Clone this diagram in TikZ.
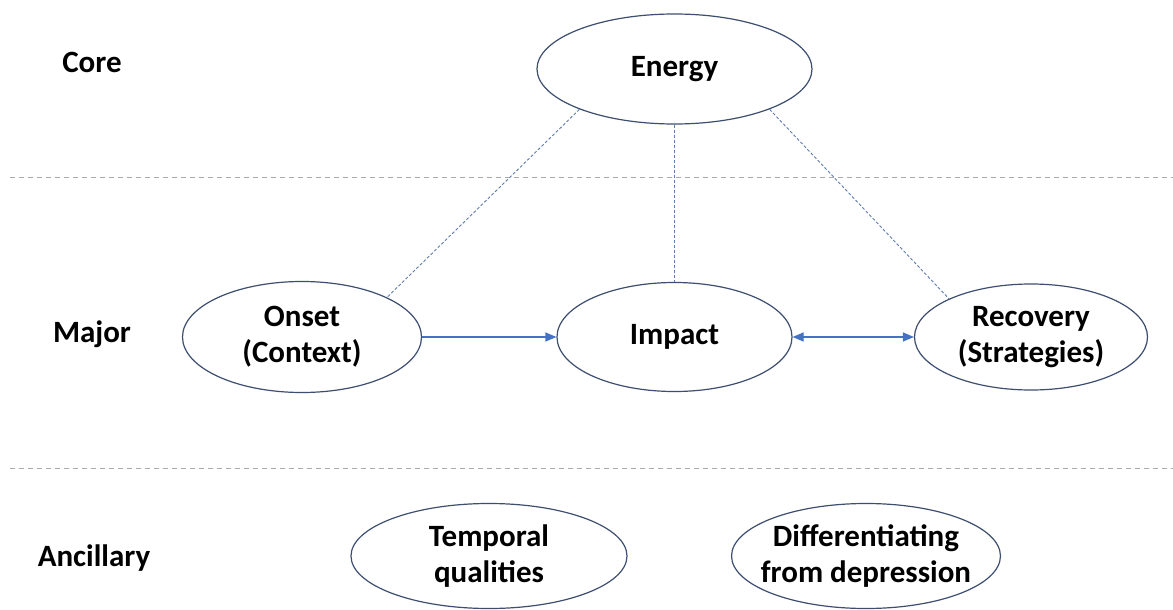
\documentclass[tikz,border=0pt]{standalone}
\usepackage{fontspec}
\setmainfont{Carlito}
\usetikzlibrary{shapes.geometric,arrows.meta}
\definecolor{outl}{RGB}{62,78,112}
\definecolor{arr}{RGB}{68,114,196}
\definecolor{dotc}{RGB}{95,125,175}
\definecolor{sep}{RGB}{170,170,170}
\begin{document}
\begin{tikzpicture}[x=1pt,y=-1pt,
  oval/.style={ellipse,draw=outl,line width=1.2pt,inner sep=0pt,align=center,
    font=\fontsize{31}{36}\selectfont\bfseries},
  lvl/.style={font=\fontsize{31}{36}\selectfont\bfseries},
  sepline/.style={draw=sep,line width=1pt,dash pattern=on 5pt off 4pt},
  dotline/.style={draw=dotc,line width=0.9pt,dash pattern=on 3pt off 2pt},
  flow/.style={draw=arr,line width=1.2pt}]
\useasboundingbox (0,0) rectangle (1173,610);
\fill[white] (0,0) rectangle (1173,610);
\coordinate (s1a) at (10,177);
\coordinate (s1b) at (1173,177);
\coordinate (s2a) at (10,468);
\coordinate (s2b) at (1173,468);
\draw[sepline] (s1a) -- (s1b);
\draw[sepline] (s2a) -- (s2b);

\node[lvl] (core) at (92,62) {Core};
\node[lvl] (major) at (92,334) {Major};
\node[lvl] (anc) at (94,558) {Ancillary};

\node[oval,minimum width=275pt,minimum height=110pt] (energy) at (674.5,69) {Energy};
\node[oval,minimum width=239pt,minimum height=111pt] (onset) at (302,337) {Onset\\(Context)};
\node[oval,minimum width=235pt,minimum height=109pt] (impact) at (674.5,337) {Impact};
\node[oval,minimum width=233pt,minimum height=106pt] (recovery) at (1031,337) {Recovery\\(Strategies)};
\node[oval,minimum width=276pt,minimum height=105pt] (temporal) at (489,556) {Temporal\\qualities};
\node[oval,inner xsep=-10pt,inner ysep=-6pt,minimum width=258pt,minimum height=105pt] (diff) at (866,556) {Differentiating\\from depression};

\draw[dotline] (energy.203) -- (onset.25);
\draw[dotline] (energy.south) -- (impact.north);
\draw[dotline] (energy.337) -- (recovery.155);

\draw[flow,-{Triangle[length=11pt,width=9pt]}] (onset.east) -- (impact.west);
\draw[flow,{Triangle[length=11pt,width=9pt]}-{Triangle[length=11pt,width=9pt]}] (impact.east) -- (recovery.west);
\end{tikzpicture}
\end{document}
